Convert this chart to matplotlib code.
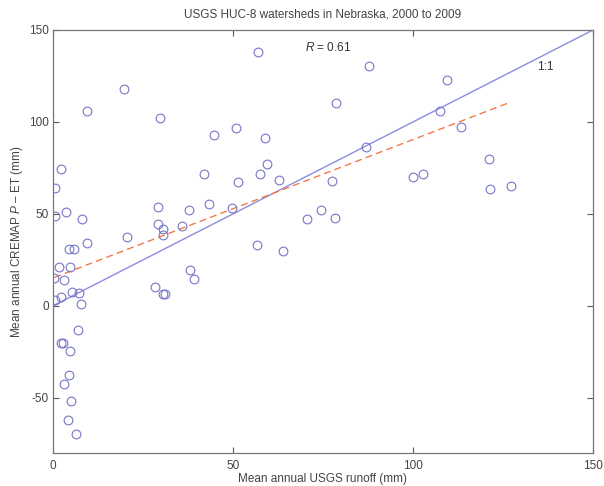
import matplotlib
matplotlib.use("Agg")
import matplotlib.pyplot as plt
import numpy as np

plt.rcParams["font.family"] = ["Liberation Sans", "DejaVu Sans"]
plt.rcParams["mathtext.fontset"] = "custom"
plt.rcParams["mathtext.it"] = "Liberation Sans:italic"
plt.rcParams["mathtext.rm"] = "Liberation Sans"
plt.rcParams["axes.unicode_minus"] = False

# Data
runoff = [0.7, 2.1, 0.7, 3.6, 8.1, 4.4, 5.8, 9.4, 20.6, 1.8, 4.8, 0.4, 3.1, 5.3, 7.3,
          2.3, 0.5, 7.8, 9.4, 19.7,
          7.0, 2.1, 2.9, 4.8, 4.5, 3.1, 5.0, 4.1, 6.4,
          57.0, 78.5, 29.6, 50.7, 44.6, 58.9, 59.4, 42.0, 57.5, 51.5, 62.8, 77.6,
          29.1, 37.9, 43.2, 49.8, 70.5, 74.4, 78.4, 29.3, 30.6, 30.5, 35.8, 56.6,
          63.8, 38.1, 39.3, 28.3, 30.6, 31.1,
          87.9, 109.4, 107.5, 113.2, 86.9, 121.1, 99.9, 102.9, 121.4, 127.1]
pet = [64.0, 74.5, 49.0, 51.0, 47.4, 31.0, 31.0, 34.0, 37.5, 21.0, 21.4, 15.3, 14.0, 7.5, 7.1,
       5.0, 3.0, 0.8, 106.0, 118.0,
       -13.0, -20.0, -20.0, -24.7, -37.7, -42.5, -51.6, -62.0, -69.5,
       138.0, 110.5, 102.3, 96.9, 93.1, 91.5, 77.1, 71.8, 71.8, 67.3, 68.2, 67.8,
       53.6, 52.3, 55.4, 53.2, 47.4, 52.3, 47.8, 44.7, 41.8, 38.4, 43.5, 33.3,
       29.9, 19.6, 14.4, 10.2, 6.6, 6.2,
       130.5, 122.6, 106.1, 97.3, 86.4, 79.8, 70.2, 71.8, 63.7, 65.1]

fit_intercept = 15.2
fit_slope = 0.752
one_to_one = [0, 150]

xticks = [0, 50, 100, 150]
yticks = [-50, 0, 50, 100, 150]

fig = plt.figure(figsize=(6.04, 4.86), dpi=100)
ax = fig.add_axes([0.0877, 0.0679, 0.8941, 0.8704])

ax.plot(one_to_one, one_to_one, color="#8c8ce0", lw=1.0, zorder=2)
xf = np.array([min(runoff), max(runoff)])
ax.plot(xf, fit_intercept + fit_slope * xf, color="#f07a4a", lw=1.0,
        ls=(0, (5, 3)), zorder=2)
ax.plot(runoff, pet, ls="none", marker="o", markersize=6.3, mfc="none",
        mec="#7676c8", mew=0.8, zorder=3)

ax.set_xlim(0, 150)
ax.set_ylim(-80, 150)
ax.set_xticks(xticks)
ax.set_yticks(yticks)
ax.tick_params(direction="in", top=True, right=True, length=4, width=0.8,
               colors="#555555", labelsize=8.5, labelcolor="#444444")
ax.tick_params(axis="x", pad=5)
ax.tick_params(axis="y", pad=3)
for s in ax.spines.values():
    s.set_color("#777777")
    s.set_linewidth(0.9)

ax.text(70, 140.6, r"$R$ = 0.61", fontsize=8.5, color="#333333", va="center")
ax.text(134.4, 130, "1:1", fontsize=8.5, color="#333333", va="center")

ax.set_title("USGS HUC-8 watersheds in Nebraska, 2000 to 2009", fontsize=8.5,
             color="#444444", pad=9)
ax.set_xlabel("Mean annual USGS runoff (mm)", fontsize=8.5, color="#444444", labelpad=1)
ax.set_ylabel("Mean annual CREMAP $P$ - ET (mm)".replace("-", "\u2013"), fontsize=8.5,
              color="#444444", labelpad=3)

fig.savefig("out.png", dpi=100)
